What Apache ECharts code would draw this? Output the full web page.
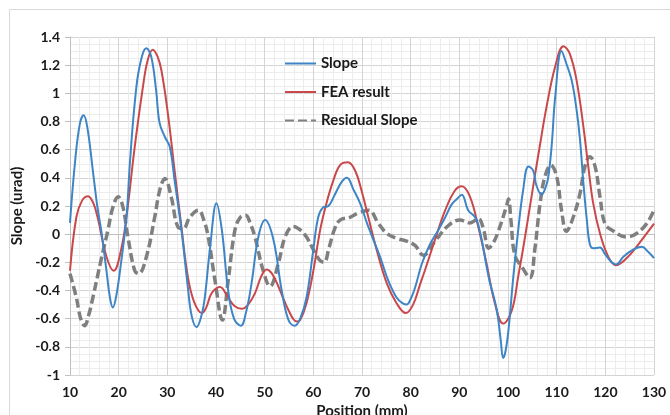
<!DOCTYPE html>
<html>
<head>
<meta charset="utf-8">
<script src="https://cdn.jsdelivr.net/npm/echarts@6/dist/echarts.min.js"></script>
<style>
html,body{margin:0;padding:0;background:#fff;}
#chart{width:670px;height:415px;}
</style>
</head>
<body>
<div id="chart"></div>
<script>
const seriesNames = ['Slope', 'FEA result', 'Residual Slope'];
const xTicks = [10, 130, 10];
const yTicks = [-1, 1.4, 0.2];

const slope = [[10,0.08],[11,0.5],[12,0.78],[12.8,0.845],[13.6,0.75],[14.7,0.45],[15.6,0.2],[16.4,0.03],[17.5,-0.26],[18.2,-0.45],[18.8,-0.52],[19.5,-0.44],[20.5,-0.2],[21.6,0.12],[22.3,0.5],[23.3,0.93],[24.3,1.19],[25.7,1.32],[26.7,1.26],[27.7,1.02],[28.4,0.79],[29.5,0.69],[30.5,0.62],[31.5,0.38],[32.9,0.03],[34.2,-0.37],[35,-0.58],[36,-0.66],[37,-0.58],[37.7,-0.45],[38.8,-0.09],[40.1,0.22],[41.2,0.03],[42.5,-0.4],[43.7,-0.6],[45.1,-0.65],[46.2,-0.55],[47.3,-0.35],[48.7,-0.02],[50.1,0.1],[51.8,-0.04],[53.5,-0.4],[54.9,-0.61],[56.2,-0.65],[57.3,-0.6],[58.6,-0.45],[60,-0.11],[61,0.12],[62,0.19],[63.1,0.2],[64.4,0.28],[65.8,0.37],[66.9,0.4],[68.2,0.32],[69.6,0.22],[71,0.08],[72,-0.01],[73.7,-0.16],[75.4,-0.33],[77.1,-0.45],[78.3,-0.49],[79.2,-0.5],[80,-0.46],[80.9,-0.38],[82.3,-0.21],[84,-0.07],[85.7,0.03],[87.1,0.12],[88.4,0.21],[89.5,0.25],[90.5,0.28],[91.8,0.17],[93,0.13],[93.6,0.1],[94.6,-0.04],[96,-0.3],[97.7,-0.54],[98.5,-0.75],[99,-0.88],[99.5,-0.83],[100.1,-0.68],[101.1,-0.3],[102.1,0.03],[103.1,0.31],[104.2,0.48],[105.2,0.45],[105.8,0.35],[106.9,0.28],[107.8,0.34],[108.3,0.41],[109,0.64],[109.7,0.975],[111,1.30],[112,1.21],[113.1,1.09],[114.1,0.88],[114.8,0.67],[115.5,0.36],[116.2,0.1],[116.8,-0.07],[117.5,-0.1],[118.9,-0.095],[119.9,-0.14],[121.3,-0.2],[122.2,-0.215],[123.7,-0.16],[125.7,-0.11],[127.5,-0.09],[128.8,-0.125],[130,-0.17]];

const fea = [[10,-0.26],[11.3,0.12],[12.5,0.24],[13.7,0.27],[14.8,0.22],[15.8,0.1],[17.5,-0.16],[19,-0.26],[20.5,-0.11],[21.6,0.12],[23.3,0.62],[25,1.05],[26,1.24],[27,1.31],[28,1.26],[28.8,1.16],[30.1,0.86],[31.5,0.45],[32.9,0.05],[34.2,-0.3],[35.5,-0.48],[37.1,-0.56],[38,-0.52],[39.1,-0.42],[40.8,-0.375],[42.5,-0.45],[43.8,-0.51],[45.3,-0.53],[46.6,-0.5],[48,-0.42],[49.3,-0.3],[50.4,-0.25],[51.5,-0.28],[52.8,-0.37],[54.9,-0.54],[56.6,-0.62],[57.3,-0.61],[58.6,-0.49],[60,-0.26],[61.4,0.03],[62.7,0.22],[64.1,0.38],[65.5,0.49],[67.1,0.51],[68.6,0.45],[69.9,0.31],[71.3,0.12],[73,-0.11],[75.1,-0.35],[77.1,-0.49],[79,-0.56],[80.5,-0.5],[81.9,-0.36],[82.9,-0.26],[85,-0.04],[87.1,0.17],[89.1,0.31],[90.5,0.34],[92.2,0.265],[93.9,0.05],[95.6,-0.21],[97.3,-0.49],[99,-0.635],[100.8,-0.54],[102.1,-0.3],[103.5,-0.02],[105.5,0.41],[106.6,0.64],[107.9,0.9],[109.7,1.19],[111.4,1.335],[112.7,1.28],[114.1,1.09],[115.5,0.76],[116.5,0.48],[117.5,0.22],[118.9,0.005],[120.6,-0.16],[122.2,-0.22],[124.4,-0.17],[126.4,-0.09],[128.5,0.005],[130,0.075]];

const residual = [[10,-0.28],[11.3,-0.45],[12.2,-0.6],[13,-0.65],[13.8,-0.58],[14.7,-0.45],[16.4,-0.18],[17.8,0.03],[18.8,0.19],[19.9,0.265],[20.9,0.19],[21.9,-0.02],[23.3,-0.26],[24.1,-0.28],[25.7,-0.16],[27.4,0.12],[28.5,0.32],[29.5,0.395],[30.8,0.265],[32.2,0.05],[33.3,0.04],[34.6,0.12],[36.4,0.17],[37.5,0.1],[38.4,-0.02],[39.8,-0.33],[41.3,-0.61],[42.5,-0.33],[43.9,0.03],[45,0.12],[46.1,0.135],[47,0.08],[48,-0.02],[49.7,-0.26],[51.1,-0.37],[52.8,-0.21],[54.2,-0.02],[55.9,0.055],[57.3,0.03],[58.6,-0.02],[60,-0.11],[61.2,-0.18],[62.2,-0.2],[63.2,-0.1],[64.4,0.04],[65.5,0.1],[67.5,0.12],[69.2,0.15],[71.4,0.17],[73.3,0.08],[75.1,0.005],[77.1,-0.03],[79.2,-0.05],[80.9,-0.08],[82.6,-0.15],[85,-0.05],[87.7,0.06],[90.1,0.1],[92.2,0.08],[93.9,0.11],[95,0.03],[96,-0.1],[97,-0.06],[98,0.02],[99.7,0.2],[100.1,0.25],[100.6,0.1],[101.4,-0.15],[102.8,-0.23],[104.5,-0.31],[105.5,-0.11],[106.6,0.22],[107.6,0.41],[108.8,0.49],[110,0.41],[111,0.17],[112,0.02],[113.4,0.12],[114.8,0.29],[115.8,0.48],[116.8,0.55],[117.9,0.48],[118.9,0.265],[119.9,0.075],[121.3,0.03],[124.4,-0.02],[126.4,0.005],[128.5,0.075],[130,0.17]];

const FONT = 'Lato';
const chart = echarts.init(document.getElementById('chart'), null, {renderer: 'canvas'});
chart.setOption({
  backgroundColor: '#ffffff',
  animation: false,
  graphic: [{
    type: 'rect', silent: true, z: -10,
    shape: {x: 9.5, y: 9.5, width: 680, height: 430},
    style: {fill: 'none', stroke: '#d9d9d9', lineWidth: 1}
  }],
  grid: {left: 70, right: 16, top: 37, bottom: 40, containLabel: false, outerBoundsMode: 'none'},
  legend: {
    orient: 'vertical', left: 279, top: 51,
    itemWidth: 31, itemHeight: 14, itemGap: 13.5,
    data: seriesNames,
    itemStyle: {opacity: 0},
    textStyle: {fontFamily: FONT, fontWeight: 'bold', fontSize: 15, color: '#1a1a1a'}
  },
  xAxis: {
    type: 'value', min: xTicks[0], max: xTicks[1], interval: xTicks[2],
    name: 'Position (mm)', nameLocation: 'middle', nameGap: 25,
    nameTextStyle: {fontFamily: FONT, fontWeight: 'bold', fontSize: 15, color: '#1a1a1a'},
    axisLine: {show: true, lineStyle: {color: '#bfbfbf'}},
    axisTick: {show: true, length: 5, lineStyle: {color: '#bfbfbf'}},
    axisLabel: {fontFamily: FONT, fontWeight: 'bold', fontSize: 14, color: '#1a1a1a', margin: 10},
    splitLine: {show: true, lineStyle: {color: '#d4d4d4', width: 1}},
    minorTick: {show: false, splitNumber: 5},
    minorSplitLine: {show: true, lineStyle: {color: '#ececec', width: 1}}
  },
  yAxis: {
    type: 'value', min: yTicks[0], max: yTicks[1], interval: yTicks[2],
    name: 'Slope (urad)', nameLocation: 'middle', nameGap: 33,
    nameTextStyle: {fontFamily: FONT, fontWeight: 'bold', fontSize: 15, color: '#1a1a1a'},
    axisLine: {show: true, lineStyle: {color: '#bfbfbf'}},
    axisTick: {show: true, length: 5, lineStyle: {color: '#bfbfbf'}},
    axisLabel: {fontFamily: FONT, fontWeight: 'bold', fontSize: 14, color: '#1a1a1a', margin: 10,
      formatter: v => String(Math.round(v * 10) / 10)},
    splitLine: {show: true, lineStyle: {color: '#d4d4d4', width: 1}},
    minorTick: {show: false, splitNumber: 4},
    minorSplitLine: {show: true, lineStyle: {color: '#ececec', width: 1}}
  },
  series: [
    {name: seriesNames[0], type: 'line', data: slope, smooth: 0.4, symbol: 'none',
     lineStyle: {color: '#3d85c6', width: 2}, itemStyle: {color: '#3d85c6'}, z: 3},
    {name: seriesNames[1], type: 'line', data: fea, smooth: 0.4, symbol: 'none',
     lineStyle: {color: '#c9484a', width: 2}, itemStyle: {color: '#c9484a'}, z: 2},
    {name: seriesNames[2], type: 'line', data: residual, smooth: 0.4, symbol: 'none',
     lineStyle: {color: '#7f7f7f', width: 3.5, type: [9, 4]}, itemStyle: {color: '#7f7f7f'}, z: 1}
  ]
});
</script>
</body>
</html>
